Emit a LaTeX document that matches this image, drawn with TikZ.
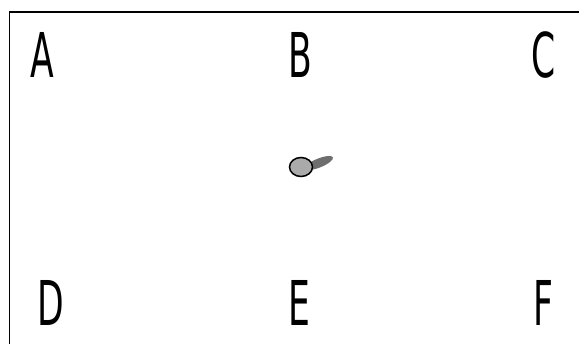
\documentclass[tikz,border=0pt]{standalone}
\usepackage{fontspec}
\newfontfamily\lblfont[FakeStretch=0.56]{DejaVu Sans}
\definecolor{pball}{HTML}{AAAAAA}
\definecolor{pshade}{HTML}{6E6E6E}
\tikzset{
  lbl/.style  = {font=\lblfont\fontsize{62}{62}\selectfont, inner sep=0pt, anchor=center},
  frame/.style = {line width=1.6bp, black},
}
\begin{document}
\begin{tikzpicture}[x=1bp,y=1bp]
\useasboundingbox (0,0) rectangle (579,343);
% open frame: top and left sides only
\draw[frame] (590,331) -- (9.5,331) -- (9.5,-10);

% corner and mid labels
\node[lbl] (a) at (42,288) {A};
\node[lbl] (b) at (300,288) {B};
\node[lbl] (c) at (544,288) {C};
\node[lbl] (d) at (51,40.5) {D};
\node[lbl] (e) at (299,40.5) {E};
\node[lbl] (f) at (543,40.5) {F};

% ball with its shadow
\fill[pshade, rotate around={22:(319,180)}] (319,180) ellipse (15 and 4.5);
\draw[line width=1.5bp, fill=pball] (301,176) ellipse (11.5 and 9.5);
\end{tikzpicture}
\end{document}
